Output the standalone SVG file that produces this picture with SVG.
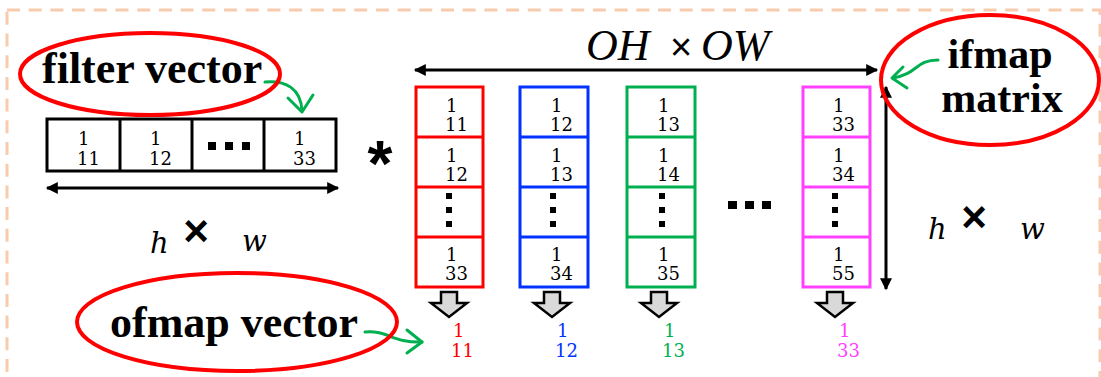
<svg xmlns="http://www.w3.org/2000/svg" width="1101" height="377" viewBox="0 0 1101 377">
<defs>
<style>
.lbl{font-family:"Liberation Serif",serif;font-weight:bold;font-size:44px;fill:#000}
.num{font-family:"DejaVu Serif",serif;font-size:18px}
.it{font-family:"Liberation Serif",serif;font-style:italic;fill:#000}
.mi{font-family:"DejaVu Serif",serif;font-style:italic;font-size:29px;fill:#000}
.times{font-family:"Liberation Sans",sans-serif;fill:#000}
.ell{fill:none;stroke:#FF0000;stroke-width:4}
.grn{fill:none;stroke:#00B050;stroke-width:3;stroke-linecap:round;stroke-linejoin:round}
.blk{fill:none;stroke:#000;stroke-width:3}
.dot{fill:#000}
.barrow{fill:#D9D9D9;stroke:#000;stroke-width:2.5;stroke-linejoin:miter}
</style>
<marker id="ah" viewBox="0 0 10 10" refX="9" refY="5" markerWidth="4.5" markerHeight="4" orient="auto-start-reverse" markerUnits="strokeWidth">
<path d="M0,0 L10,5 L0,10 Z" fill="#000"/>
</marker>
</defs>
<rect x="7" y="10" width="1093" height="390" fill="none" stroke="#F8CBAD" stroke-width="3" stroke-dasharray="13 8.7"/>

<g id="connectors">
<line x1="47" y1="188" x2="338" y2="188" class="blk" marker-start="url(#ah)" marker-end="url(#ah)"/>
<line x1="415" y1="70" x2="877" y2="70" class="blk" marker-start="url(#ah)" marker-end="url(#ah)"/>
<line x1="886" y1="87" x2="886" y2="289" class="blk" marker-start="url(#ah)" marker-end="url(#ah)"/>
<path class="grn" d="M265,82 C285,80 301,88 302,111"/>
<path class="grn" d="M288,98 L302,112 L313,95"/>
<path class="grn" d="M365,332 C388,330 392,343 422,342"/>
<path class="grn" d="M407,330 L422,342 L407,353"/>
<path class="grn" d="M938,60 C915,60 918,74 893,78"/>
<path class="grn" d="M903,67 L892,78 L907,88"/>
</g>

<g id="filter-vector">
<rect x="47" y="119" width="289" height="52" class="blk"/>
<line x1="120" y1="119" x2="120" y2="171" class="blk"/>
<line x1="192" y1="119" x2="192" y2="171" class="blk"/>
<line x1="264" y1="119" x2="264" y2="171" class="blk"/>
<text class="num" x="78" y="145">1</text><text class="num" x="77" y="165">11</text>
<text class="num" x="150" y="145">1</text><text class="num" x="149" y="165">12</text>
<rect x="208" y="142" width="8" height="8" class="dot"/><rect x="225" y="142" width="8" height="8" class="dot"/><rect x="242" y="142" width="8" height="8" class="dot"/>
<text class="num" x="294" y="145">1</text><text class="num" x="293" y="165">33</text>
</g>

<g id="filter-label">
<ellipse cx="150" cy="74" rx="130" ry="41" class="ell"/>
<text class="lbl" x="42" y="83">filter vector</text>
</g>

<g id="hw-left">
<text class="mi" x="150" y="253">h</text>
<text class="times" x="196" y="246" font-size="44" font-weight="bold" text-anchor="middle">×</text>
<text class="mi" x="242" y="251">w</text>
</g>

<g id="star"><text x="380" y="186" font-family="Liberation Sans, sans-serif" font-weight="bold" font-size="64" text-anchor="middle">*</text></g>

<g id="ohow">
<text class="it" x="586" y="60" font-size="44">OH</text>
<text class="times" x="681" y="60" font-size="38" text-anchor="middle">×</text>
<text class="it" x="701" y="60" font-size="44">OW</text>
</g>

<g id="col-red">
<rect x="416" y="87" width="67" height="200" fill="none" stroke="#FF0000" stroke-width="3"/>
<line x1="416" y1="137" x2="483" y2="137" stroke="#FF0000" stroke-width="3"/>
<line x1="416" y1="187" x2="483" y2="187" stroke="#FF0000" stroke-width="3"/>
<line x1="416" y1="237" x2="483" y2="237" stroke="#FF0000" stroke-width="3"/>
<text class="num" x="446" y="112">1</text><text class="num" x="445" y="131">11</text>
<text class="num" x="446" y="162">1</text><text class="num" x="445" y="181">12</text>
<rect x="446" y="193" width="6" height="6" class="dot"/><rect x="446" y="207" width="6" height="6" class="dot"/><rect x="446" y="221" width="6" height="6" class="dot"/>
<text class="num" x="446" y="261">1</text><text class="num" x="445" y="280">33</text>
</g>

<g id="col-blue">
<rect x="520" y="87" width="68" height="200" fill="none" stroke="#0033FF" stroke-width="3"/>
<line x1="520" y1="137" x2="588" y2="137" stroke="#0033FF" stroke-width="3"/>
<line x1="520" y1="187" x2="588" y2="187" stroke="#0033FF" stroke-width="3"/>
<line x1="520" y1="237" x2="588" y2="237" stroke="#0033FF" stroke-width="3"/>
<text class="num" x="551" y="112">1</text><text class="num" x="550" y="131">12</text>
<text class="num" x="551" y="162">1</text><text class="num" x="550" y="181">13</text>
<rect x="550" y="193" width="6" height="6" class="dot"/><rect x="550" y="207" width="6" height="6" class="dot"/><rect x="550" y="221" width="6" height="6" class="dot"/>
<text class="num" x="551" y="261">1</text><text class="num" x="550" y="280">34</text>
</g>

<g id="col-green">
<rect x="627" y="87" width="68" height="200" fill="none" stroke="#00B050" stroke-width="3"/>
<line x1="627" y1="137" x2="695" y2="137" stroke="#00B050" stroke-width="3"/>
<line x1="627" y1="187" x2="695" y2="187" stroke="#00B050" stroke-width="3"/>
<line x1="627" y1="237" x2="695" y2="237" stroke="#00B050" stroke-width="3"/>
<text class="num" x="658" y="112">1</text><text class="num" x="657" y="131">13</text>
<text class="num" x="658" y="162">1</text><text class="num" x="657" y="181">14</text>
<rect x="659" y="193" width="6" height="6" class="dot"/><rect x="659" y="207" width="6" height="6" class="dot"/><rect x="659" y="221" width="6" height="6" class="dot"/>
<text class="num" x="658" y="261">1</text><text class="num" x="657" y="280">35</text>
</g>

<g id="hdots">
<rect x="728" y="201" width="9" height="8" class="dot"/><rect x="745" y="201" width="9" height="8" class="dot"/><rect x="762" y="201" width="9" height="8" class="dot"/>
</g>

<g id="col-magenta">
<rect x="803" y="87" width="67" height="200" fill="none" stroke="#FF40FF" stroke-width="3"/>
<line x1="803" y1="137" x2="870" y2="137" stroke="#FF40FF" stroke-width="3"/>
<line x1="803" y1="187" x2="870" y2="187" stroke="#FF40FF" stroke-width="3"/>
<line x1="803" y1="237" x2="870" y2="237" stroke="#FF40FF" stroke-width="3"/>
<text class="num" x="833" y="112">1</text><text class="num" x="832" y="131">33</text>
<text class="num" x="833" y="162">1</text><text class="num" x="832" y="181">34</text>
<rect x="832" y="193" width="6" height="6" class="dot"/><rect x="832" y="207" width="6" height="6" class="dot"/><rect x="832" y="221" width="6" height="6" class="dot"/>
<text class="num" x="833" y="261">1</text><text class="num" x="832" y="280">55</text>
</g>

<g id="outputs">
<polygon class="barrow" points="441,292 457,292 457,303 467,303 449,317 431,303 441,303"/>
<polygon class="barrow" points="544,292 560,292 560,303 570,303 552,317 534,303 544,303"/>
<polygon class="barrow" points="651,292 667,292 667,303 677,303 659,317 641,303 651,303"/>
<polygon class="barrow" points="827,292 843,292 843,303 853,303 835,317 817,303 827,303"/>
<text class="num" x="453" y="337" fill="#FF0000">1</text><text class="num" x="451" y="357" fill="#FF0000">11</text>
<text class="num" x="557" y="337" fill="#0033FF">1</text><text class="num" x="555" y="357" fill="#0033FF">12</text>
<text class="num" x="664" y="337" fill="#00B050">1</text><text class="num" x="662" y="357" fill="#00B050">13</text>
<text class="num" x="839" y="337" fill="#FF40FF">1</text><text class="num" x="837" y="357" fill="#FF40FF">33</text>
</g>

<g id="hw-right">
<text class="mi" x="928" y="239">h</text>
<text class="times" x="974" y="232" font-size="44" font-weight="bold" text-anchor="middle">×</text>
<text class="mi" x="1020" y="239">w</text>
</g>

<g id="ifmap-label">
<ellipse cx="990" cy="80" rx="109" ry="65" class="ell"/>
<text class="lbl" text-anchor="middle" font-size="42" style="font-size:42px"><tspan x="1000" y="68">ifmap</tspan><tspan x="1002" y="112">matrix</tspan></text>
</g>

<g id="ofmap-label">
<ellipse cx="237" cy="322" rx="160" ry="49" class="ell"/>
<text class="lbl" x="110" y="337">ofmap vector</text>
</g>
</svg>
